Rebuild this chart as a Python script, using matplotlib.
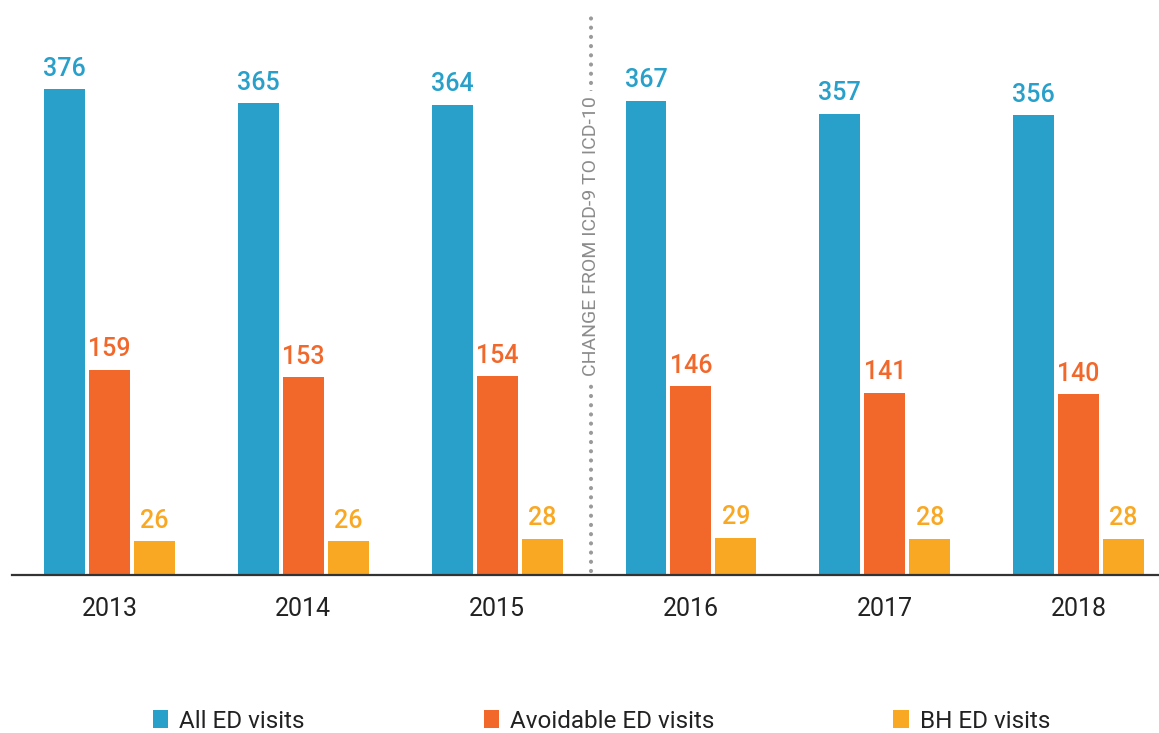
import numpy as np
import matplotlib
matplotlib.use("Agg")
import matplotlib.pyplot as plt
from matplotlib.patches import Patch

# data
years = ["2013", "2014", "2015", "2016", "2017", "2018"]
all_ed = [376, 365, 364, 367, 357, 356]
avoidable_ed = [159, 153, 154, 146, 141, 140]
bh_ed = [26, 26, 28, 29, 28, 28]
series_names = ["All ED visits", "Avoidable ED visits", "BH ED visits"]
divider_label = "CHANGE FROM ICD-9 TO ICD-10"

colors = ["#28A0CA", "#F2682B", "#F9A824"]

plt.rcParams["font.family"] = ["Roboto", "DejaVu Sans"]

fig = plt.figure(figsize=(11.59, 7.33), dpi=100)
ax = fig.add_axes([12 / 1159, 158 / 733, 1 - 12 / 1159, 1 - 158 / 733])

x = np.arange(len(years))
width = 0.211
step = 0.232
for i, (vals, col) in enumerate(zip([all_ed, avoidable_ed, bh_ed], colors)):
    pos = x + (i - 1) * step
    ax.bar(pos, vals, width=width, color=col, zorder=2)
    for px, v in zip(pos, vals):
        ax.text(px, v + 6.5, str(v), ha="center", va="bottom", color=col,
                fontsize=18, fontweight="medium")

ax.set_xlim(-0.503, 5.415)
ax.set_ylim(0, 445)

# ICD-9 -> ICD-10 divider
div_x = 2.485
ax.plot([div_x, div_x], [3, 436], color="#9A9A9A", lw=3,
        linestyle=(0, (0.01, 2.2)), dash_capstyle="round", zorder=1)
ax.text(div_x, 262, divider_label, rotation=90, ha="center", va="center",
        color="#8C8C8C", fontsize=14,
        bbox=dict(facecolor="white", edgecolor="none", pad=4), zorder=3)

for s in ["top", "right", "left"]:
    ax.spines[s].set_visible(False)
ax.spines["bottom"].set_color("#333333")
ax.spines["bottom"].set_linewidth(1.6)
ax.set_yticks([])
ax.set_xticks(x)
ax.set_xticklabels(years, fontsize=18, color="#222222")
ax.tick_params(axis="x", length=0, pad=16)

handles = [Patch(facecolor=c, edgecolor="none") for c in colors]
fig.legend(handles, series_names, loc="center", bbox_to_anchor=(0.519, 1 - 721 / 733),
           ncol=3, frameon=False, fontsize=17.5, handlelength=0.65, handleheight=0.7,
           handletextpad=0.45, columnspacing=7.35, labelcolor="#222222")

fig.savefig("out.png", dpi=100)
